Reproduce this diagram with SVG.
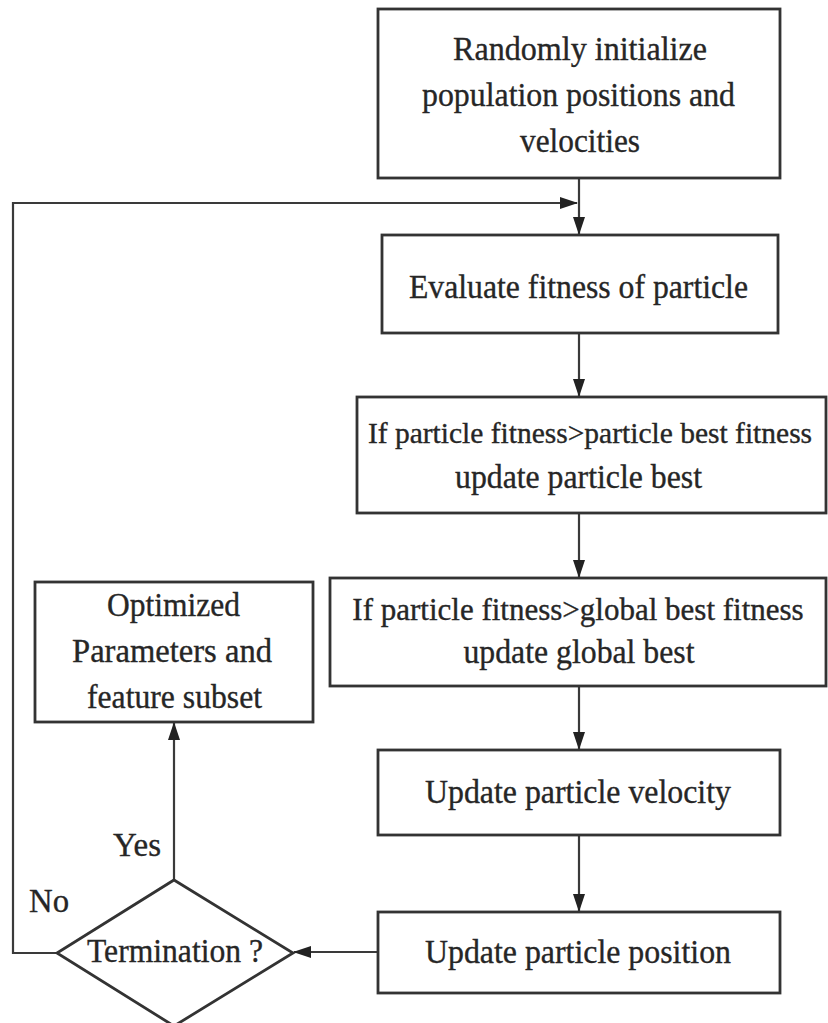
<svg xmlns="http://www.w3.org/2000/svg" width="828" height="1023" viewBox="0 0 828 1023">
<style>
.box{fill:#fff;stroke:#333;stroke-width:2.8}
.t{font-family:"Liberation Serif","Times New Roman",serif;font-size:34px;fill:#262626;stroke:#262626;stroke-width:0.35;text-anchor:middle}
.c{fill:none;stroke:#3a3a3a;stroke-width:2.2}
</style>
<defs>
<marker id="ah" markerUnits="userSpaceOnUse" markerWidth="18" markerHeight="12" refX="17" refY="6" orient="auto">
<path d="M0,0 L18,6 L0,12 z" fill="#222"/>
</marker>
</defs>
<rect width="828" height="1023" fill="#fff"/>
<g id="connectors">
<path class="c" d="M579,178 V234" marker-end="url(#ah)"/>
<path class="c" d="M57,953 H13 V203 H577" marker-end="url(#ah)"/>
<path class="c" d="M579,333 V396" marker-end="url(#ah)"/>
<path class="c" d="M579,513 V577" marker-end="url(#ah)"/>
<path class="c" d="M579,686 V749" marker-end="url(#ah)"/>
<path class="c" d="M579,835 V911" marker-end="url(#ah)"/>
<path class="c" d="M378,952 H294" marker-end="url(#ah)"/>
<path class="c" d="M174,880 V723" marker-end="url(#ah)"/>
</g>
<g id="n1">
<rect class="box" x="378" y="9" width="402" height="169"/>
<text class="t" x="580" y="60" textLength="254" lengthAdjust="spacingAndGlyphs">Randomly initialize</text>
<text class="t" x="578.5" y="106" textLength="313" lengthAdjust="spacingAndGlyphs">population positions and</text>
<text class="t" x="580" y="152" textLength="120" lengthAdjust="spacingAndGlyphs">velocities</text>
</g>
<g id="n2">
<rect class="box" x="382" y="235" width="396" height="98"/>
<text class="t" x="578.5" y="298" textLength="339" lengthAdjust="spacingAndGlyphs">Evaluate fitness of particle</text>
</g>
<g id="n3">
<rect class="box" x="357" y="397" width="469" height="116"/>
<text class="t" x="590" y="443" style="font-size:29.5px">If particle fitness&gt;particle best fitness</text>
<text class="t" x="578.5" y="488" textLength="247" lengthAdjust="spacingAndGlyphs">update particle best</text>
</g>
<g id="n4">
<rect class="box" x="330" y="578" width="496" height="108"/>
<text class="t" x="578" y="620" style="font-size:31px">If particle fitness&gt;global best fitness</text>
<text class="t" x="579" y="663" textLength="231" lengthAdjust="spacingAndGlyphs">update global best</text>
</g>
<g id="n5">
<rect class="box" x="378" y="750" width="402" height="85"/>
<text class="t" x="578" y="803" textLength="306" lengthAdjust="spacingAndGlyphs">Update particle velocity</text>
</g>
<g id="n6">
<rect class="box" x="378" y="912" width="402" height="81"/>
<text class="t" x="578" y="963" textLength="306" lengthAdjust="spacingAndGlyphs">Update particle position</text>
</g>
<g id="n7">
<rect class="box" x="35" y="582" width="278" height="140"/>
<text class="t" x="173.5" y="616" textLength="133" lengthAdjust="spacingAndGlyphs">Optimized</text>
<text class="t" x="172" y="662" textLength="200" lengthAdjust="spacingAndGlyphs">Parameters and</text>
<text class="t" x="174.5" y="708" textLength="175" lengthAdjust="spacingAndGlyphs">feature subset</text>
</g>
<g id="n8">
<polygon class="box" points="174,880 293,953 174,1026 57,953"/>
<text class="t" x="175" y="962" textLength="176" lengthAdjust="spacingAndGlyphs">Termination ?</text>
</g>
<g id="labels">
<text class="t" x="137" y="856" textLength="48" lengthAdjust="spacingAndGlyphs">Yes</text>
<text class="t" x="49" y="912" textLength="40" lengthAdjust="spacingAndGlyphs">No</text>
</g>
</svg>
